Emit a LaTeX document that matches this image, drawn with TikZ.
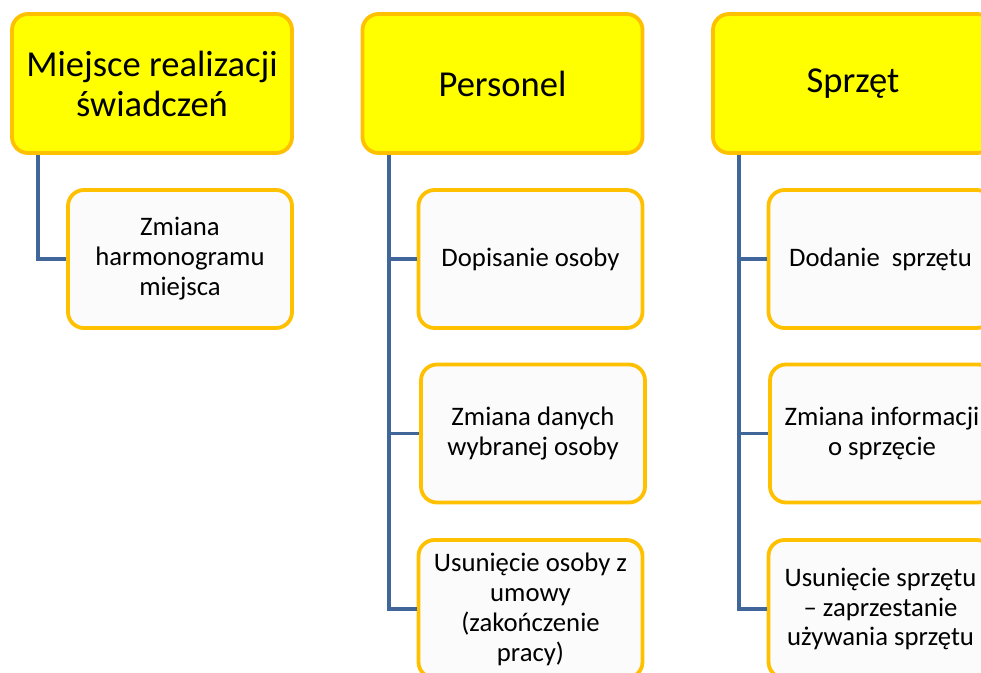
\documentclass[tikz,border=0pt]{standalone}
\usepackage{fontspec}
\setmainfont{Carlito}
\usetikzlibrary{positioning}
\definecolor{boxYellow}{HTML}{FFFF00}
\definecolor{boxOrange}{HTML}{FFC000}
\definecolor{subFill}{HTML}{FBFBFB}
\definecolor{lineBlue}{HTML}{41679A}
\tikzstyle{topBox} = [shape=rectangle, draw=boxOrange, fill=boxYellow, line width=2.7pt,
	rounded corners=0.4cm, align=center, text=black, inner sep=0pt,
	minimum width=7cm, minimum height=3.475cm, font=\fontsize{26}{28.5}\selectfont]
\tikzstyle{subBox} = [shape=rectangle, draw=boxOrange, fill=subFill, line width=2.7pt,
	rounded corners=0.4cm, align=center, text=black, inner sep=0pt,
	minimum width=5.6cm, minimum height=3.45cm, font=\fontsize{19}{21.3}\selectfont]
\tikzstyle{treeLine} = [draw=lineBlue, line width=2.8pt]

\begin{document}
\begin{tikzpicture}
  \useasboundingbox (0,0) rectangle (24.525,-16.825);
  \clip (0,0) rectangle (24.525,-16.825);

  \node (MIEJ) [topBox] at (3.8,-2.0875) {Miejsce realizacji\\świadczeń};
  \node (PERS) [topBox] at (12.5625,-2.0875) {Personel};
  \node (SPRZ) [topBox] at (21.325,-2.0875) {Sprzęt};

  \node (HARM) [subBox] at (4.5,-6.475) {Zmiana\\harmonogramu\\miejsca};

  \node (DOPO) [subBox] at (13.2625,-6.475) {Dopisanie osoby};
  \node (ZMOS) [subBox] at (13.325,-10.8375) {Zmiana danych\\wybranej osoby};
  \node (USOS) [subBox] at (13.2625,-15.225) {Usunięcie osoby z\\umowy\\(zakończenie\\pracy)};

  \node (DOSP) [subBox] at (22.0125,-6.475) {Dodanie\ \ sprzętu};
  \node (ZMSP) [subBox] at (22.05,-10.8375) {Zmiana informacji\\o sprzęcie};
  \node (USSP) [subBox] at (22.0125,-15.225) {Usunięcie sprzętu\\– zaprzestanie\\używania sprzętu};

  \draw [treeLine] ([xshift=0.7cm]MIEJ.south west) |- (HARM.west);
  \draw [treeLine] ([xshift=0.7cm]PERS.south west) |- (DOPO.west);
  \draw [treeLine] ([xshift=0.7cm]PERS.south west) |- (ZMOS.west);
  \draw [treeLine] ([xshift=0.7cm]PERS.south west) |- (USOS.west);
  \draw [treeLine] ([xshift=0.7cm]SPRZ.south west) |- (DOSP.west);
  \draw [treeLine] ([xshift=0.7cm]SPRZ.south west) |- (ZMSP.west);
  \draw [treeLine] ([xshift=0.7cm]SPRZ.south west) |- (USSP.west);

\end{tikzpicture}
\end{document}
